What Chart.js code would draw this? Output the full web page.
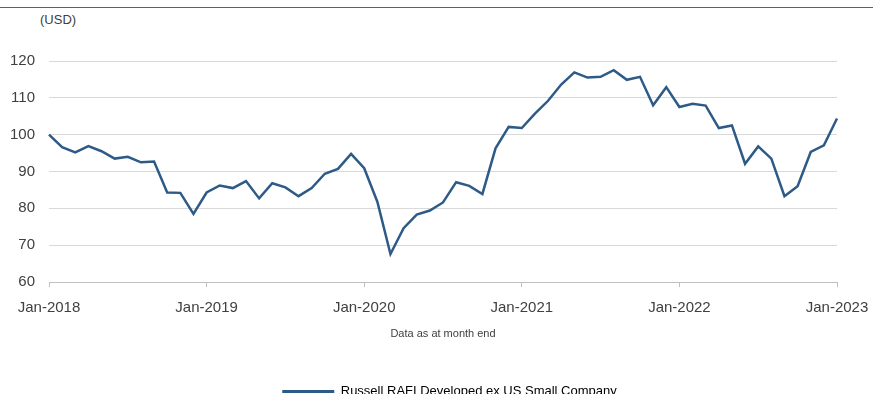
<!DOCTYPE html>
<html>
<head>
<meta charset="utf-8">
<script src="https://cdn.jsdelivr.net/npm/chart.js@4.4.1/dist/chart.umd.min.js"></script>
<style>
    html, body { margin: 0; padding: 0; background: #ffffff; overflow: hidden; }
    #wrap { position: relative; width: 873px; height: 394px; overflow: hidden; }
    #topRule { position: absolute; left: 0; top: 7px; width: 873px; height: 1px; background: #8a4a63; }
    #unit { position: absolute; left: 40px; top: 12px; font: 13px "Liberation Sans", Arial, sans-serif; color: #404040; }
    #chartCanvas { position: absolute; left: 0; top: 0; }
</style>
</head>
<body>
<div id="wrap">
    <div id="topRule"></div>
    <div id="unit">(USD)</div>
    <canvas id="chartCanvas" width="873" height="408"></canvas>
</div>
<script>
var seriesName = "Russell RAFI Developed ex US Small Company";
var years = ["2018", "2019", "2020", "2021", "2022", "2023"];
var monthNames = ["Jan", "Feb", "Mar", "Apr", "May", "Jun", "Jul", "Aug", "Sep", "Oct", "Nov", "Dec"];
var yTicks = [60, 70, 80, 90, 100, 110, 120];

var values2018 = [100.0, 96.6, 95.2, 96.9, 95.5, 93.5, 94.0, 92.5, 92.7, 84.3, 84.2, 78.5];
var values2019 = [84.3, 86.2, 85.5, 87.4, 82.7, 86.8, 85.7, 83.3, 85.5, 89.4, 90.7, 94.8];
var values2020 = [90.9, 81.8, 67.6, 74.6, 78.3, 79.4, 81.6, 87.1, 86.1, 83.9, 96.3, 102.1];
var values2021 = [101.8, 105.7, 109.2, 113.6, 116.9, 115.5, 115.7, 117.5, 114.9, 115.7, 108.0, 112.9];
var values2022 = [107.5, 108.4, 107.9, 101.8, 102.5, 92.1, 96.8, 93.5, 83.3, 86.0, 95.3, 97.1];
var values2023 = [104.4];

var labels = [];
var values = [];
var yearValues = [values2018, values2019, values2020, values2021, values2022, values2023];
for (var y = 0; y < years.length; y++)
{
    for (var m = 0; m < yearValues[y].length; m++)
    {
        labels.push(monthNames[m] + "-" + years[y]);
        values.push(yearValues[y][m]);
    }
}

var fontFamily = '"Liberation Sans", Arial, sans-serif';
var lineColor = "#2e5a87";

// the legend in the source sits a little right of centre
var legendShift = {
    id: "legendShift",
    afterLayout: function (chart) {
        chart.legend.left += 26;
    }
};

var chart = new Chart(document.getElementById("chartCanvas"), {
    type: "line",
    data: {
        labels: labels,
        datasets: [{
            label: seriesName,
            data: values,
            borderColor: lineColor,
            backgroundColor: lineColor,
            borderWidth: 2.5,
            pointRadius: 0,
            tension: 0
        }]
    },
    plugins: [legendShift],
    options: {
        responsive: false,
        animation: false,
        layout: {
            padding: { top: 61, left: 0, right: 0, bottom: 0 }
        },
        plugins: {
            tooltip: { enabled: false },
            legend: {
                position: "bottom",
                labels: {
                    font: { family: fontFamily, size: 13 },
                    color: "#404040",
                    boxWidth: 52,
                    boxHeight: 3,
                    padding: 44,
                    generateLabels: function (c) {
                        return [{
                            text: seriesName,
                            fillStyle: lineColor,
                            strokeStyle: lineColor,
                            lineWidth: 0,
                            datasetIndex: 0
                        }];
                    }
                }
            }
        },
        scales: {
            x: {
                offset: false,
                afterFit: function (scale) {
                    scale.height = 59;
                    scale.paddingLeft = 0;
                    scale.paddingRight = 36;
                },
                grid: {
                    drawOnChartArea: false,
                    drawTicks: true,
                    tickLength: 5,
                    color: function (ctx) {
                        return (ctx.index % 12 == 0) ? "#bfbfbf" : "rgba(0,0,0,0)";
                    }
                },
                border: { display: true, color: "#bfbfbf", width: 1 },
                ticks: {
                    autoSkip: false,
                    maxRotation: 0,
                    minRotation: 0,
                    padding: 12,
                    color: "#404040",
                    font: { family: fontFamily, size: 15 },
                    callback: function (value, index) {
                        return (index % 12 == 0) ? labels[index] : "";
                    }
                },
                title: {
                    display: true,
                    text: "Data as at month end",
                    color: "#404040",
                    font: { family: fontFamily, size: 11 },
                    padding: 0
                }
            },
            y: {
                min: 60,
                max: 120,
                afterFit: function (scale) { scale.width = 49; },
                afterBuildTicks: function (scale) {
                    scale.ticks = yTicks.map(function (v) { return { value: v }; });
                },
                grid: {
                    drawTicks: false,
                    color: "#d9d9d9",
                    lineWidth: 1
                },
                border: { display: false },
                ticks: {
                    padding: 14,
                    color: "#404040",
                    font: { family: fontFamily, size: 15 }
                }
            }
        }
    }
});
</script>
</body>
</html>
